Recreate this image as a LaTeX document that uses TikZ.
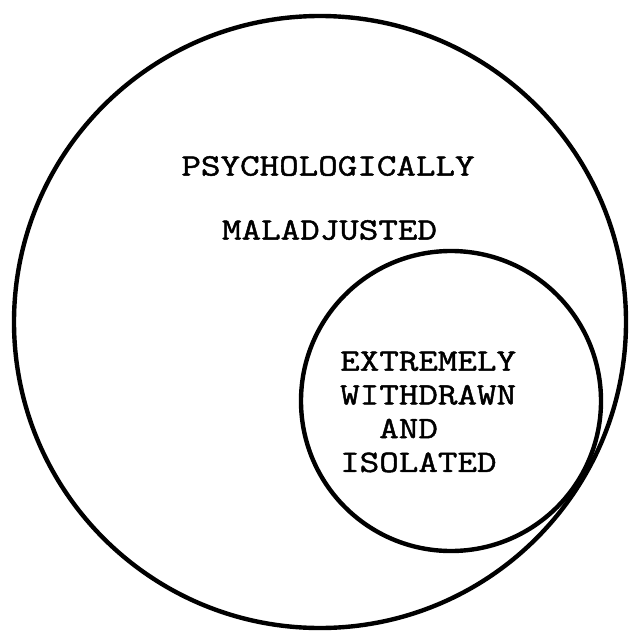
\documentclass[tikz,border=0pt]{standalone}
\usepackage{fontspec}
\setmonofont[FakeBold=1.5, FakeStretch=1.22]{Latin Modern Mono}
\begin{document}
\begin{tikzpicture}[line width=2.5pt]
\useasboundingbox (0,0) rectangle (12.6,-12.62);
\tikzstyle{every node} = [circle, draw, inner sep=0pt]
\node[minimum size=12.24cm] (big) at (6.40,-6.44) {};
\node[minimum size=6cm] (small) at (9.02,-8.02) {};
\tikzstyle{every node} = [font=\ttfamily\fontsize{17.7}{19.2}\selectfont, inner sep=0pt]
\node (psy) at (6.56,-3.32) {PSYCHOLOGICALLY};
\node (mal) at (6.59,-4.60) {MALADJUSTED};
\node[align=left, anchor=west] (ewi) at (6.76,-8.24) {EXTREMELY\\WITHDRAWN\\\phantom{XX}AND\\ISOLATED};
\end{tikzpicture}
\end{document}
